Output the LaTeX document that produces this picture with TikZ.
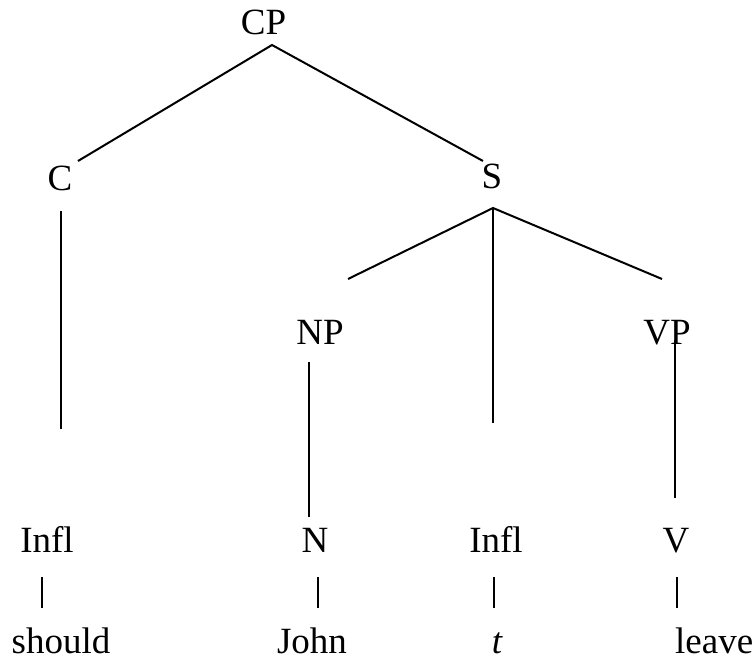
\documentclass[tikz,border=0pt]{standalone}
\usepackage{fontspec}
\setmainfont{Liberation Serif}
\begin{document}
\begin{tikzpicture}[x=1pt,y=1pt,
  lab/.style={anchor=base,inner sep=0pt,font=\fontsize{37}{40}\selectfont},
  branch/.style={line width=2pt},
  stem/.style={line width=1.6pt}]
\useasboundingbox (0,0) rectangle (755,-658);
% labels
\node[lab] (cp) at (263.5,-35) {CP};
\node[lab] (c) at (60,-190) {C};
\node[lab] (s) at (492,-189) {S};
\node[lab] (np) at (320,-344) {NP};
\node[lab] (vp) at (667,-344) {VP};
\node[lab] (infla) at (47,-552) {Infl};
\node[lab] (n) at (315,-552) {N};
\node[lab] (inflb) at (496,-552) {Infl};
\node[lab] (v) at (676,-552) {V};
\node[lab] (should) at (61,-653) {should};
\node[lab] (john) at (312,-653) {John};
\node[lab] (t) at (497,-653) {\itshape t};
\node[lab,anchor=base west] (leave) at (675,-653) {leave};
% connector end points
\coordinate (cpB) at (272,-45);
\coordinate (cT) at (78,-161);
\coordinate (sT) at (483,-161);
\coordinate (cB) at (61,-211);
\coordinate (cE) at (61,-429);
\coordinate (sB) at (493,-208);
\coordinate (npT) at (348,-279);
\coordinate (vpT) at (662,-279);
\coordinate (sE) at (493,-423);
\coordinate (npB) at (309,-362);
\coordinate (npE) at (309,-517);
\coordinate (vpB) at (675,-340);
\coordinate (vpE) at (675,-498);
\coordinate (b1t) at (42,-577); \coordinate (b1b) at (42,-608);
\coordinate (b2t) at (318,-577); \coordinate (b2b) at (318,-608);
\coordinate (b3t) at (494,-577); \coordinate (b3b) at (494,-608);
\coordinate (b4t) at (677,-577); \coordinate (b4b) at (677,-608);
% connectors
\draw[branch] (cT) -- (cpB) -- (sT);
\draw[branch] (npT) -- (sB) -- (vpT);
\draw[stem] (sB) -- (sE);
\draw[stem] (cB) -- (cE);
\draw[stem] (npB) -- (npE);
\draw[stem] (vpB) -- (vpE);
\draw[stem] (b1t) -- (b1b);
\draw[stem] (b2t) -- (b2b);
\draw[stem] (b3t) -- (b3b);
\draw[stem] (b4t) -- (b4b);
\end{tikzpicture}
\end{document}
